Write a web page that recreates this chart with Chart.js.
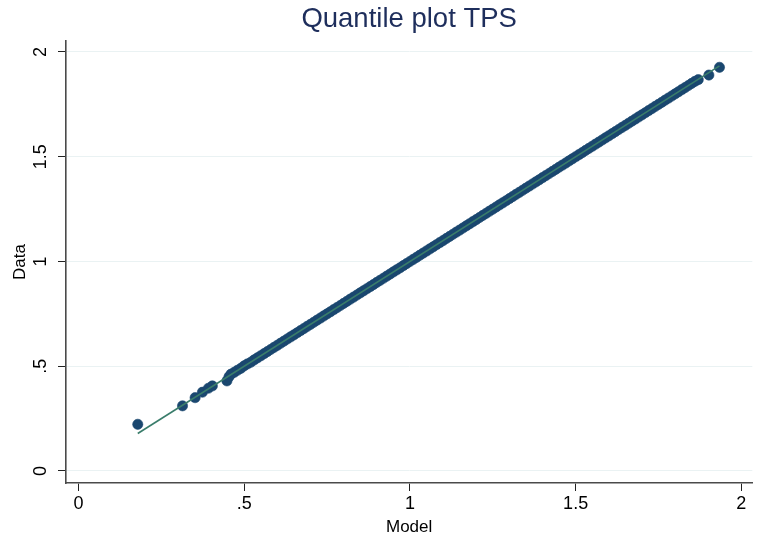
<!DOCTYPE html>
<html>
<head>
<meta charset="utf-8">
<script src="https://cdn.jsdelivr.net/npm/chart.js@4"></script>
<style>
  html, body { margin: 0; padding: 0; background: #fff; }
  canvas { display: block; }
</style>
</head>
<body>
<canvas id="qplot" width="758" height="540"></canvas>
<script>
// quantiles: fitted model (x) against observed TPS (y)
const modelQ = [
  0.179, 0.314, 0.352, 0.374, 0.392, 0.404, 0.448, 0.454,
  0.46, 0.47, 0.48, 0.49, 0.50, 0.51, 0.52, 0.53, 0.54, 0.55,
  0.56, 0.57, 0.58, 0.59, 0.60, 0.61, 0.62, 0.63, 0.64, 0.65,
  0.66, 0.67, 0.68, 0.69, 0.70, 0.71, 0.72, 0.73, 0.74, 0.75,
  0.76, 0.77, 0.78, 0.79, 0.80, 0.81, 0.82, 0.83, 0.84, 0.85,
  0.86, 0.87, 0.88, 0.89, 0.90, 0.91, 0.92, 0.93, 0.94, 0.95,
  0.96, 0.97, 0.98, 0.99, 1.00, 1.01, 1.02, 1.03, 1.04, 1.05,
  1.06, 1.07, 1.08, 1.09, 1.10, 1.11, 1.12, 1.13, 1.14, 1.15,
  1.16, 1.17, 1.18, 1.19, 1.20, 1.21, 1.22, 1.23, 1.24, 1.25,
  1.26, 1.27, 1.28, 1.29, 1.30, 1.31, 1.32, 1.33, 1.34, 1.35,
  1.36, 1.37, 1.38, 1.39, 1.40, 1.41, 1.42, 1.43, 1.44, 1.45,
  1.46, 1.47, 1.48, 1.49, 1.50, 1.51, 1.52, 1.53, 1.54, 1.55,
  1.56, 1.57, 1.58, 1.59, 1.60, 1.61, 1.62, 1.63, 1.64, 1.65,
  1.66, 1.67, 1.68, 1.69, 1.70, 1.71, 1.72, 1.73, 1.74, 1.75,
  1.76, 1.77, 1.78, 1.79, 1.80, 1.81, 1.82, 1.83, 1.84, 1.85,
  1.86, 1.87, 1.902, 1.934
];
const dataQ = [
  0.223, 0.311, 0.350, 0.376, 0.395, 0.406, 0.430, 0.449,
  0.462, 0.471, 0.481, 0.490, 0.502, 0.511, 0.519, 0.530, 0.540, 0.550,
  0.56, 0.57, 0.58, 0.59, 0.60, 0.61, 0.62, 0.63, 0.64, 0.65,
  0.66, 0.67, 0.68, 0.69, 0.70, 0.71, 0.72, 0.73, 0.74, 0.75,
  0.76, 0.77, 0.78, 0.79, 0.80, 0.81, 0.82, 0.83, 0.84, 0.85,
  0.86, 0.87, 0.88, 0.89, 0.90, 0.91, 0.92, 0.93, 0.94, 0.95,
  0.96, 0.97, 0.98, 0.99, 1.00, 1.01, 1.02, 1.03, 1.04, 1.05,
  1.06, 1.07, 1.08, 1.09, 1.10, 1.11, 1.12, 1.13, 1.14, 1.15,
  1.16, 1.17, 1.18, 1.19, 1.20, 1.21, 1.22, 1.23, 1.24, 1.25,
  1.26, 1.27, 1.28, 1.29, 1.30, 1.31, 1.32, 1.33, 1.34, 1.35,
  1.36, 1.37, 1.38, 1.39, 1.40, 1.41, 1.42, 1.43, 1.44, 1.45,
  1.46, 1.47, 1.48, 1.49, 1.50, 1.51, 1.52, 1.53, 1.54, 1.55,
  1.56, 1.57, 1.58, 1.59, 1.60, 1.61, 1.62, 1.63, 1.64, 1.65,
  1.66, 1.67, 1.68, 1.69, 1.70, 1.71, 1.72, 1.73, 1.74, 1.75,
  1.76, 1.77, 1.78, 1.79, 1.80, 1.81, 1.82, 1.83, 1.84, 1.85,
  1.86, 1.868, 1.890, 1.927
];
// 45-degree reference line over the model range
const refLine = [0.179, 1.934];
const tickVals = [0, 0.5, 1, 1.5, 2];
const tickText = ['0', '.5', '1', '1.5', '2'];

Chart.defaults.font.family = '"Liberation Sans", Arial, Helvetica, sans-serif';
Chart.defaults.color = '#000';

const setTicks = scale => { scale.ticks = tickVals.map(v => ({ value: v })); };
const tickLabel = v => tickText[tickVals.indexOf(v)] ?? '';

new Chart(document.getElementById('qplot').getContext('2d'), {
    type: 'scatter',
    data: {
        datasets: [{
            type: 'line',
            data: refLine.map(v => ({ x: v, y: v })),
            borderColor: '#3a7d6b',
            borderWidth: 1.6,
            pointRadius: 0,
            fill: false
        }, {
            data: modelQ.map((m, i) => ({ x: m, y: dataQ[i] })),
            backgroundColor: '#1a476f',
            borderColor: '#1a476f',
            borderWidth: 0.6,
            pointRadius: 5.1
        }]
    },
    options: {
        responsive: false,
        animation: false,
        layout: { padding: { left: 0, right: 1, top: 0, bottom: 0 } },
        scales: {
            x: {
                type: 'linear',
                position: 'bottom',
                min: -0.0375,
                max: 2.033,
                afterBuildTicks: setTicks,
                afterFit: s => { s.height = 57; },
                grid: { drawOnChartArea: false, tickLength: 8, tickColor: '#222' },
                border: { color: '#4a4a4a', width: 1.6 },
                ticks: { font: { size: 18 }, padding: 2, maxRotation: 0, callback: tickLabel },
                title: { display: true, text: 'Model', font: { size: 17 }, padding: { top: 0, bottom: 2 } }
            },
            y: {
                type: 'linear',
                min: -0.0573,
                max: 2.0525,
                afterBuildTicks: setTicks,
                afterFit: s => { s.width = 66; },
                grid: { color: '#eaf2f3', lineWidth: 1, tickLength: 8, tickColor: '#222' },
                border: { color: '#4a4a4a', width: 1.6 },
                ticks: {
                    font: { size: 18 }, padding: 4,
                    minRotation: 90, maxRotation: 90, crossAlign: 'center',
                    callback: tickLabel
                },
                title: { display: true, text: 'Data', font: { size: 17 }, padding: { top: 10, bottom: 0 } }
            }
        },
        plugins: {
            legend: { display: false },
            tooltip: { enabled: false },
            title: {
                display: true,
                fullSize: false,
                text: 'Quantile plot TPS',
                color: '#1e2e5c',
                font: { size: 27.5, weight: 'normal' },
                padding: { top: 2.6, bottom: 5.4 }
            }
        }
    }
});
</script>
</body>
</html>
